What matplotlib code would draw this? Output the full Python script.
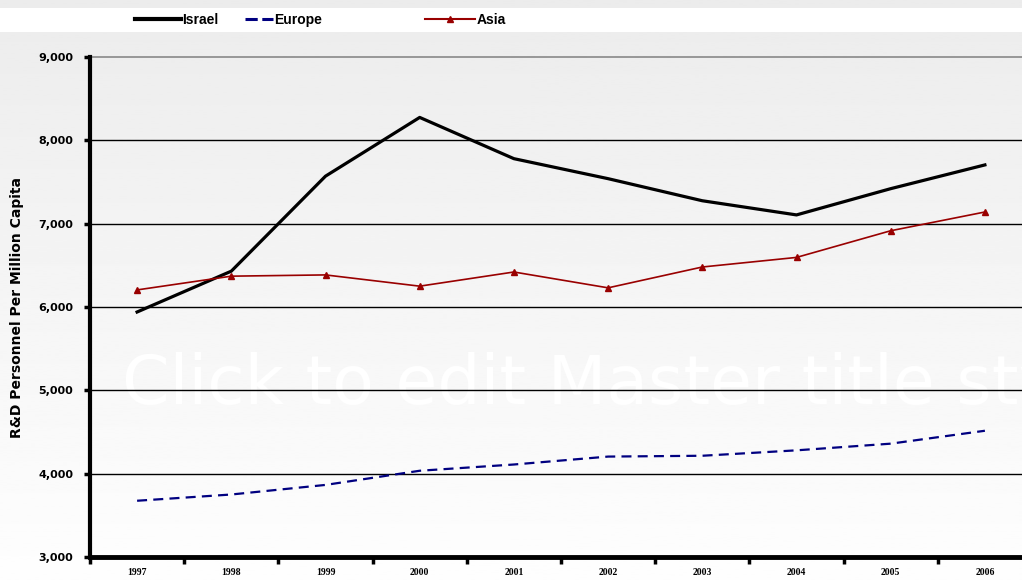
import numpy as np
import matplotlib.pyplot as plt
from matplotlib.lines import Line2D
from matplotlib.ticker import FuncFormatter, FixedLocator

years = ['1997', '1998', '1999', '2000', '2001', '2002', '2003', '2004', '2005', '2006']
israel = [5940, 6430, 7570, 8275, 7780, 7540, 7275, 7105, 7420, 7705]
europe = [3675, 3750, 3865, 4035, 4110, 4205, 4215, 4280, 4360, 4515]
asia = [6205, 6370, 6385, 6250, 6420, 6230, 6480, 6595, 6915, 7140]

plt.rcParams['font.family'] = ['Liberation Sans', 'DejaVu Sans']

fig = plt.figure(figsize=(10.22, 5.8), dpi=100)

# background gradient (light grey at top to near white at bottom)
bg = fig.add_axes([0, 0, 1, 1], zorder=0)
grad = np.linspace(0.925, 0.995, 256).reshape(-1, 1)
bg.imshow(grad, aspect='auto', cmap='gray', vmin=0, vmax=1, extent=[0, 1, 1, 0])
bg.axis('off')

# white legend band
band = fig.add_axes([0, 1 - 32 / 580, 1, 24 / 580], zorder=1)
band.set_facecolor('white')
band.set_xticks([])
band.set_yticks([])
for s in band.spines.values():
    s.set_visible(False)

# faint watermark left over from the slide template
fig.text(122 / 1022, 1 - 404 / 580, 'Click to edit Master title style', color='white',
         fontsize=49, family='DejaVu Sans', va='baseline', ha='left', zorder=2)

ax = fig.add_axes([90 / 1022, 23 / 580, 942 / 1022, 500 / 580], zorder=3)
ax.patch.set_alpha(0)
x = np.arange(len(years))

ax.plot(x, israel, color='black', lw=2.3, label='Israel', zorder=5)
ax.plot(x, europe, color='#000080', lw=1.6, dashes=(4.5, 2.8), label='Europe', zorder=5)
ax.plot(x, asia, color='#990000', lw=1.2, marker='^', markersize=5, label='Asia', zorder=5)

ax.set_xlim(-0.5, 9.5)
ax.set_ylim(3000, 9000)
ax.set_yticks(range(3000, 9001, 1000))
ax.yaxis.set_major_formatter(FuncFormatter(lambda v, p: f'{int(v):,}'))
for yv in range(4000, 9000, 1000):
    ax.axhline(yv, color='black', lw=1.0, zorder=1)
ax.axhline(9000, color='#888888', lw=1.2, zorder=1, clip_on=False)

ax.set_xticks(x)
ax.set_xticklabels(years, fontsize=7, fontweight='bold', family='Liberation Serif')
ax.xaxis.set_minor_locator(FixedLocator(np.arange(-0.5, 10, 1)))
ax.tick_params(axis='x', which='major', length=0, pad=8)
ax.tick_params(axis='x', which='minor', length=5, width=2.5, direction='out')
ax.tick_params(axis='y', length=4, width=2.5, direction='out', pad=8)
for lab in ax.get_yticklabels():
    lab.set_fontweight('bold')
    lab.set_fontsize(8)
    lab.set_family('DejaVu Sans')

for side in ['top', 'right']:
    ax.spines[side].set_visible(False)
ax.spines['left'].set_linewidth(3)
ax.spines['bottom'].set_linewidth(3.5)

ax.set_ylabel('R&D Personnel Per Million Capita', fontsize=10, fontweight='bold',
              family='DejaVu Sans', labelpad=10)

# legend entries placed individually, like the original slide
entries = [
    (Line2D([], [], color='black', lw=3), 'Israel', 128, 3.3),
    (Line2D([], [], color='#000080', lw=2.2, dashes=(4, 1.5)), 'Europe', 238, 2.0),
    (Line2D([], [], color='#990000', lw=1.5, marker='^', markersize=5), 'Asia', 418, 3.6),
]
for h, lab, px, hl in entries:
    fig.legend(handles=[h], labels=[lab], loc='center left',
               bbox_to_anchor=(px / 1022, 1 - 20 / 580), frameon=False,
               handlelength=hl, handletextpad=0.1, borderpad=0,
               prop={'weight': 'bold', 'size': 10})

fig.savefig('out.png', dpi=100)
